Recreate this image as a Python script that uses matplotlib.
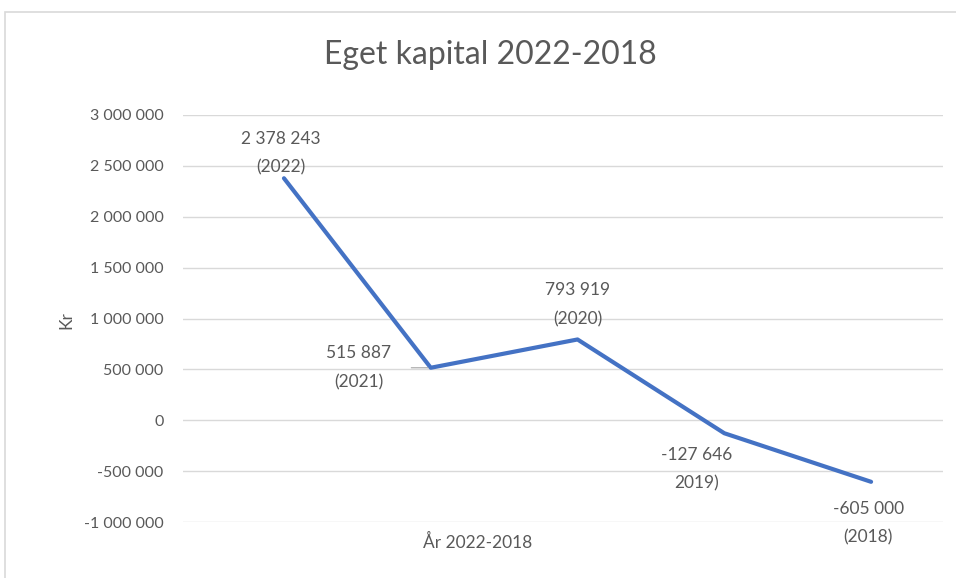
import matplotlib
matplotlib.use('Agg')
import matplotlib.pyplot as plt
from matplotlib.patches import Rectangle

# Data
years = ['2022', '2021', '2020', '2019', '2018']
values = [2378243, 515887, 793919, -127646, -605000]
labels = ['2 378 243\n(2022)', '515 887\n(2021)', '793 919\n(2020)', '-127 646\n2019)', '-605 000\n(2018)']
yticks = [3000000, 2500000, 2000000, 1500000, 1000000, 500000, 0, -500000, -1000000]
ytick_labels = ['3 000 000', '2 500 000', '2 000 000', '1 500 000', '1 000 000', '500 000', '0', '-500 000', '-1 000 000']

plt.rcParams['font.family'] = ['Lato', 'DejaVu Sans']
text_col = '#595959'

fig = plt.figure(figsize=(9.56, 5.78), dpi=100)
ax = fig.add_axes([183 / 956, 1 - 522 / 578, (943 - 183) / 956, (522 - 115) / 578])

# Ramme rundt diagrammet
fig.patches.append(Rectangle((5 / 956, -0.1), 1.2, 1 - 12 / 578 + 0.1, transform=fig.transFigure,
                             fill=False, edgecolor='#d9d9d9', linewidth=1.2))

x = list(range(len(years)))
ax.plot(x, values, color='#4472C4', linewidth=3, solid_capstyle='round', solid_joinstyle='round')

ax.set_xlim(-0.688, 4.49)
ax.set_ylim(-1000000, 3000000)
ax.set_yticks(yticks)
ax.set_yticklabels(ytick_labels)
ax.set_xticks([])
ax.grid(axis='y', color='#d9d9d9', linewidth=1)
ax.set_axisbelow(True)
for s in ax.spines.values():
    s.set_visible(False)
ax.tick_params(axis='y', length=0, pad=14, labelsize=11.5, labelcolor=text_col)

# Dataetiketter (forskyvning i punkter)
offsets = [(-2, 2, 'bottom'), (-52, 0, 'center'), (0, 9, 'bottom'), (-20, -10, 'top'), (-2, -14, 'top')]
for xi, v, lab, (dx, dy, va) in zip(x, values, labels, offsets):
    ax.annotate(lab, (xi, v), xytext=(dx, dy), textcoords='offset points', ha='center', va=va,
                fontsize=12.5, color=text_col, linespacing=1.95)
# ledelinje for 2021
ax.annotate('', (1, values[1]), xytext=(-16, 0), textcoords='offset points',
            arrowprops=dict(arrowstyle='-', color='#a6a6a6', lw=0.8))

fig.text(490 / 956, 1 - 55 / 578, 'Eget kapital 2022-2018', fontsize=23, color=text_col,
         ha='center', va='center')
fig.text(66 / 956, 1 - 320 / 578, 'Kr', fontsize=12.5, color=text_col, rotation=90,
         ha='center', va='center')
fig.text(478 / 956, 1 - 542 / 578, 'År 2022-2018', fontsize=12.5, color=text_col,
         ha='center', va='center')

fig.savefig('out.png', dpi=100)
